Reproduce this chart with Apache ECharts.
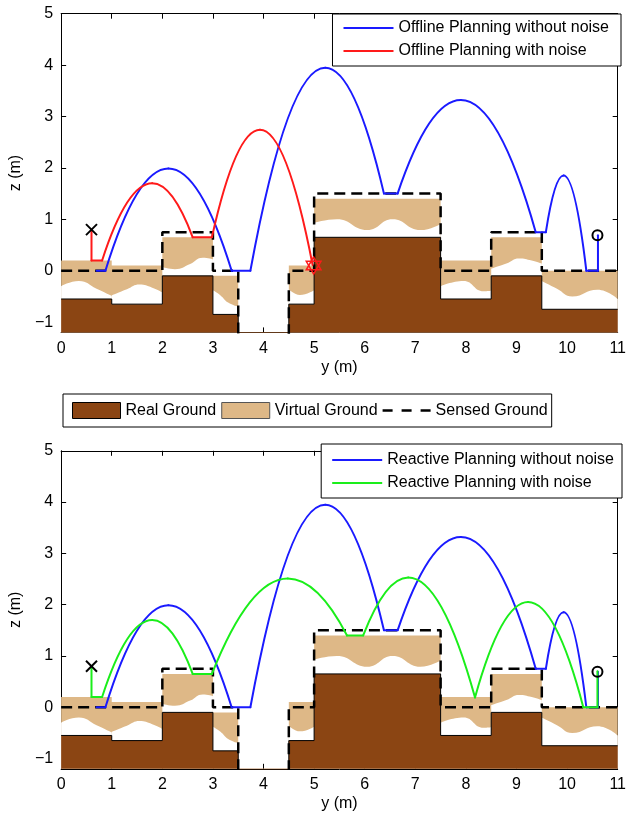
<!DOCTYPE html>
<html>
<head>
<meta charset="utf-8">
<script src="https://cdn.jsdelivr.net/npm/echarts@6/dist/echarts.min.js"></script>
<style>
  html, body { margin: 0; padding: 0; background: #fff; }
  #chart { width: 629px; height: 815px; }
</style>
</head>
<body>
<div id="chart"></div>
<script>
// ground blocks along y (m): edges and heights of each block
const segEdges = [0, 1, 2, 3, 3.5, 4.5, 5, 7.5, 8.5, 9.5, 11];
const realTop = [-0.55, -0.65, -0.1, -0.85, -1.3, -0.65, 0.65, -0.55, -0.1, -0.75];
const virtualTop = [0.2, 0.1, 0.65, -0.1, -1.3, 0.1, 1.4, 0.2, 0.65, 0];
const sensedTop = [0, 0, 0.75, 0, -1.3, 0, 1.5, 0, 0.75, 0];
// wavy lower edge of the virtual ground, one list per block (none over the pit)
const virtualWave = [
  [[0, -0.30], [0.35, -0.20], [0.7, -0.35], [1, -0.49]],
  [[1, -0.48], [1.3, -0.36], [1.55, -0.27], [1.8, -0.33], [2, -0.42]],
  [[2, 0.07], [2.25, 0.03], [2.55, 0.13], [2.8, 0.25], [3, 0.22]],
  [[3, -0.38], [3.15, -0.48], [3.3, -0.62], [3.5, -0.70]],
  [[4.5, -0.36], [4.72, -0.47], [5, -0.38]],
  [[5, 0.93], [5.45, 1.0], [6.05, 0.79], [6.55, 1.0], [7.1, 0.79], [7.5, 0.91]],
  [[7.5, -0.30], [7.95, -0.20], [8.35, -0.40], [8.5, -0.39]],
  [[8.5, 0.04], [8.8, 0.14], [9.05, 0.24], [9.3, 0.2], [9.5, 0.14]],
  [[9.5, -0.2], [9.8, -0.35], [10.1, -0.5], [10.6, -0.37], [11, -0.55]]
];
const zTicks = [-1, 0, 1, 2, 3, 4, 5];

// trajectories: straight legs, and flight arcs as [y0, z0, yPeak, zPeak, y1, z1]
const offlineCleanLegs = [
  [[0.7, 0], [0.875, 0]], [[3.37, 0], [3.74, 0]], [[6.38, 1.5], [6.65, 1.5]],
  [[9.38, 0.75], [9.58, 0.75]], [[10.38, 0], [10.61, 0]], [[10.61, 0], [10.61, 0.69]]
];
const offlineCleanArcs = [
  [0.875, 0, 2.12, 1.99, 3.37, 0],
  [3.74, 0, 5.22, 3.95, 6.38, 1.5],
  [6.65, 1.5, 7.9, 3.32, 9.38, 0.75],
  [9.58, 0.75, 9.93, 1.85, 10.38, 0]
];
const offlineNoisyLegs = [
  [[0.6, 0.8], [0.6, 0.2]], [[0.6, 0.2], [0.81, 0.2]], [[2.6, 0.65], [2.98, 0.65]]
];
const offlineNoisyArcs = [
  [0.81, 0.2, 1.8, 1.7, 2.6, 0.65],
  [2.98, 0.65, 3.93, 2.74, 4.97, 0.11]
];
const reactiveCleanLegs = offlineCleanLegs;
const reactiveCleanArcs = offlineCleanArcs;
const reactiveNoisyLegs = [
  [[0.6, 0.8], [0.6, 0.2]], [[0.6, 0.2], [0.81, 0.2]], [[2.6, 0.65], [2.98, 0.65]],
  [[5.65, 1.4], [5.97, 1.4]], [[10.32, 0], [10.6, 0]], [[10.6, 0], [10.6, 0.7]]
];
const reactiveNoisyArcs = [
  [0.81, 0.2, 1.8, 1.7, 2.6, 0.65],
  [2.98, 0.65, 4.48, 2.51, 5.65, 1.4],
  [5.97, 1.4, 6.86, 2.53, 8.18, 0.19],
  [8.18, 0.19, 9.23, 2.05, 10.32, 0]
];
const startPoint = [0.6, 0.8];
const goalPoint = [10.6, 0.69];
const failPoint = [4.99, 0.1];

const FONT = '"Liberation Sans", Arial, Helvetica, sans-serif';
const BROWN = '#8B4513';
const TAN = '#DEB887';
const BLUE = '#1a1aff';
const RED = '#ff1a1a';
const GREEN = '#1aee1a';
const LINE_ICON = 'path://M0,0H25V1H0Z';
const DASH_ICON = 'path://M0,0H10V2.4H0ZM19,0H29V2.4H19ZM38,0H48V2.4H38Z';

function stepData(tops) {
  return segEdges.map((x, i) => [x, tops[Math.min(i, tops.length - 1)]]);
}

function axesFor(gi) {
  const tick = { inside: true, length: 5, lineStyle: { color: '#000', width: 1 } };
  const line = { onZero: false, lineStyle: { color: '#000', width: 1 } };
  const x = [
    {
      type: 'value', gridIndex: gi, position: 'bottom', min: 0, max: 11, interval: 1,
      axisLine: line, axisTick: tick, splitLine: { show: false },
      axisLabel: { color: '#000', fontSize: 16, fontFamily: FONT, margin: 8 },
      name: 'y (m)', nameLocation: 'middle', nameGap: 27,
      nameTextStyle: { color: '#000', fontSize: 16, fontFamily: FONT }
    },
    {
      type: 'value', gridIndex: gi, position: 'top', min: 0, max: 11, interval: 1,
      axisLine: line, axisTick: tick, splitLine: { show: false }, axisLabel: { show: false }
    }
  ];
  const y = [
    {
      type: 'value', gridIndex: gi, position: 'left', min: -1.2, max: 5,
      axisLine: line, axisTick: Object.assign({ customValues: zTicks }, tick), splitLine: { show: false },
      axisLabel: {
        customValues: zTicks, color: '#000', fontSize: 16, fontFamily: FONT, margin: 8,
        formatter: v => (v < 0 ? '\u2212' + Math.abs(v) : String(v))
      },
      name: 'z (m)', nameLocation: 'middle', nameRotate: 90, nameGap: 29,
      nameTextStyle: { color: '#000', fontSize: 16, fontFamily: FONT }
    },
    {
      type: 'value', gridIndex: gi, position: 'right', min: -1.2, max: 5,
      axisLine: line, axisTick: Object.assign({ customValues: zTicks }, tick),
      splitLine: { show: false }, axisLabel: { show: false }
    }
  ];
  return { x, y };
}

function groundSeries(gi) {
  const ax = { xAxisIndex: gi * 2, yAxisIndex: gi * 2 };
  const list = [];
  list.push(Object.assign({
    type: 'line', name: 'Virtual Ground', step: 'end', data: stepData(virtualTop),
    symbol: 'none', silent: true, z: 1,
    lineStyle: { width: 0, opacity: 0 }, itemStyle: { color: TAN },
    areaStyle: { color: TAN, opacity: 1, origin: 'start' }
  }, ax));
  virtualWave.forEach(w => {
    list.push(Object.assign({
      type: 'line', data: w, smooth: 0.5, symbol: 'none', silent: true, z: 2,
      lineStyle: { width: 0, opacity: 0 },
      areaStyle: { color: '#fff', opacity: 1, origin: 'start' }
    }, ax));
  });
  list.push(Object.assign({
    type: 'line', name: 'Real Ground', step: 'end', data: stepData(realTop),
    symbol: 'none', silent: true, z: 3,
    lineStyle: { color: '#000', width: 1 }, itemStyle: { color: BROWN },
    areaStyle: { color: BROWN, opacity: 1, origin: 'start' }
  }, ax));
  list.push(Object.assign({
    type: 'line', name: 'Sensed Ground', step: 'end', data: stepData(sensedTop),
    symbol: 'none', silent: true, z: 4,
    lineStyle: { color: '#000', width: 2.5, type: [11, 6] }, itemStyle: { color: '#000' }
  }, ax));
  return list;
}

// a flight arc is a parabola: two quadratic halves meeting at the apex
function arcRender(color) {
  return function (params, api) {
    const y0 = api.value(0), yp = api.value(2), y1 = api.value(4), zp = api.value(3);
    const p0 = api.coord([y0, api.value(1)]);
    const pk = api.coord([yp, zp]);
    const p1 = api.coord([y1, api.value(5)]);
    const cl = api.coord([(y0 + yp) / 2, zp]);
    const cr = api.coord([(yp + y1) / 2, zp]);
    const style = { stroke: color, lineWidth: 2, fill: 'none', lineCap: 'round' };
    return {
      type: 'group',
      children: [
        { type: 'bezierCurve', shape: { x1: p0[0], y1: p0[1], cpx1: cl[0], cpy1: cl[1], x2: pk[0], y2: pk[1] }, style },
        { type: 'bezierCurve', shape: { x1: pk[0], y1: pk[1], cpx1: cr[0], cpy1: cr[1], x2: p1[0], y2: p1[1] }, style }
      ]
    };
  };
}

function pathSeries(legs, arcs, name, color, gi) {
  const ax = { xAxisIndex: gi * 2, yAxisIndex: gi * 2 };
  const list = legs.map(p => Object.assign({
    type: 'line', name, data: p, symbol: 'none', silent: true, z: 5,
    lineStyle: { color, width: 2, cap: 'round', join: 'round' }, itemStyle: { color }
  }, ax));
  list.push(Object.assign({
    type: 'custom', name, data: arcs, silent: true, z: 5,
    encode: { x: [0, 2, 4], y: [1, 3, 5] },
    itemStyle: { color },
    renderItem: arcRender(color)
  }, ax));
  return list;
}

function markerRender(kind) {
  return function (params, api) {
    const c = api.coord([api.value(0), api.value(1)]);
    if (kind === 'x') {
      const r = 5.5;
      const st = { stroke: '#000', lineWidth: 2 };
      return {
        type: 'group', children: [
          { type: 'line', shape: { x1: c[0] - r, y1: c[1] - r, x2: c[0] + r, y2: c[1] + r }, style: st },
          { type: 'line', shape: { x1: c[0] - r, y1: c[1] + r, x2: c[0] + r, y2: c[1] - r }, style: st }
        ]
      };
    }
    if (kind === 'o') {
      return { type: 'circle', shape: { cx: c[0], cy: c[1], r: 5 }, style: { stroke: '#000', lineWidth: 2, fill: 'none' } };
    }
    const r = 8.5, h = r * 0.866, q = r / 2;
    const st = { stroke: RED, lineWidth: 1.5, fill: 'none' };
    return {
      type: 'group', children: [
        { type: 'polygon', shape: { points: [[c[0], c[1] - r], [c[0] + h, c[1] + q], [c[0] - h, c[1] + q]] }, style: st },
        { type: 'polygon', shape: { points: [[c[0], c[1] + r], [c[0] + h, c[1] - q], [c[0] - h, c[1] - q]] }, style: st }
      ]
    };
  };
}

function markerSeries(gi, withStar) {
  const ax = { xAxisIndex: gi * 2, yAxisIndex: gi * 2 };
  const list = [
    Object.assign({ type: 'custom', data: [startPoint], z: 7, silent: true, renderItem: markerRender('x') }, ax),
    Object.assign({ type: 'custom', data: [goalPoint], z: 7, silent: true, renderItem: markerRender('o') }, ax)
  ];
  if (withStar) {
    list.push(Object.assign({ type: 'custom', data: [failPoint], z: 7, silent: true, renderItem: markerRender('star') }, ax));
  }
  return list;
}

function lineItem(name, color) {
  return { name, icon: LINE_ICON, itemStyle: { color, borderWidth: 0 } };
}

const legendBase = {
  backgroundColor: '#fff', borderColor: '#000', borderWidth: 1, borderRadius: 0,
  selectedMode: false, z: 10,
  textStyle: { color: '#000', fontSize: 16, fontFamily: FONT }
};

const a0 = axesFor(0);
const a1 = axesFor(1);

const option = {
  animation: false,
  backgroundColor: '#fff',
  grid: [
    { left: 55, top: 13.7, width: 565.7, height: 318.7 },
    { left: 55, top: 450.8, width: 565.7, height: 318 }
  ],
  xAxis: a0.x.concat(a1.x),
  yAxis: a0.y.concat(a1.y),
  legend: [
    Object.assign({}, legendBase, {
      orient: 'vertical', right: 8, top: 14, padding: [6, 12, 7, 11],
      itemWidth: 50, itemHeight: 14, itemGap: 7,
      data: [lineItem('Offline Planning without noise', BLUE), lineItem('Offline Planning with noise', RED)]
    }),
    Object.assign({}, legendBase, {
      orient: 'horizontal', left: 63, top: 394, padding: [8, 4, 8, 9],
      itemWidth: 48, itemHeight: 16, itemGap: 5,
      data: [
        { name: 'Real Ground', icon: 'rect', itemStyle: { color: BROWN, borderColor: '#000', borderWidth: 1 } },
        { name: 'Virtual Ground', icon: 'rect', itemStyle: { color: TAN, borderColor: '#555', borderWidth: 1 } },
        { name: 'Sensed Ground', icon: DASH_ICON, itemStyle: { color: '#000', borderWidth: 0 } }
      ]
    }),
    Object.assign({}, legendBase, {
      orient: 'vertical', right: 7, top: 444, padding: [8, 8, 7, 11],
      itemWidth: 50, itemHeight: 14, itemGap: 7,
      data: [lineItem('Reactive Planning without noise', BLUE), lineItem('Reactive Planning with noise', GREEN)]
    })
  ],
  series: [].concat(
    groundSeries(0),
    pathSeries(offlineCleanLegs, offlineCleanArcs, 'Offline Planning without noise', BLUE, 0),
    pathSeries(offlineNoisyLegs, offlineNoisyArcs, 'Offline Planning with noise', RED, 0),
    markerSeries(0, true),
    groundSeries(1),
    pathSeries(reactiveCleanLegs, reactiveCleanArcs, 'Reactive Planning without noise', BLUE, 1),
    pathSeries(reactiveNoisyLegs, reactiveNoisyArcs, 'Reactive Planning with noise', GREEN, 1),
    markerSeries(1, false)
  )
};

const chart = echarts.init(document.getElementById('chart'), null, { renderer: 'canvas' });
chart.setOption(option);
</script>
</body>
</html>
